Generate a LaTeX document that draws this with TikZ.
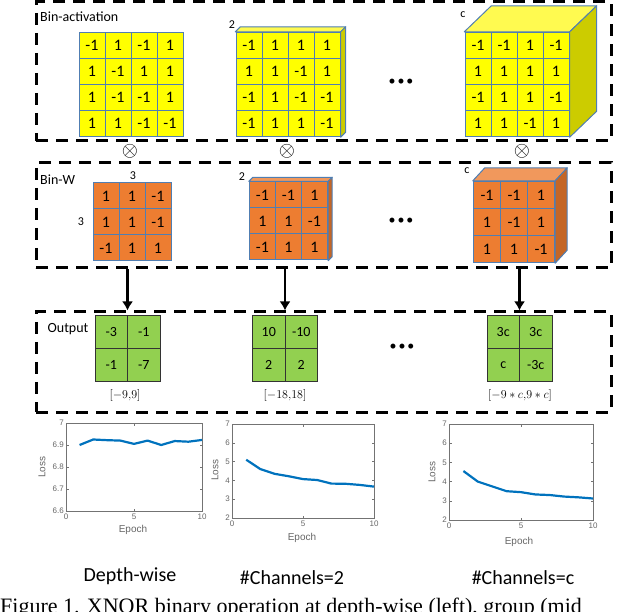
\documentclass[tikz,border=0pt]{standalone}
\usepackage{fontspec}
\setmainfont{Carlito}
\newfontfamily\axisfont{Liberation Sans}
\newfontfamily\capfont{Liberation Serif}
\usepackage{xcolor}
\usepackage{tikz}
\usetikzlibrary{shapes,arrows,arrows.meta,matrix}
\definecolor{cellblue}{RGB}{80,126,178}
\definecolor{actyellow}{RGB}{255,255,0}
\definecolor{acttop}{RGB}{255,250,80}
\definecolor{actside}{RGB}{204,204,0}
\definecolor{worange}{RGB}{237,125,49}
\definecolor{wtop}{RGB}{241,152,92}
\definecolor{wside}{RGB}{196,102,38}
\definecolor{outgreen}{RGB}{146,208,80}
\definecolor{lossblue}{RGB}{0,114,189}
\tikzstyle{dashbox} = [rectangle, draw, line width=3pt, dash pattern=on 12pt off 8pt, minimum width=575pt, inner sep=0pt]
\tikzstyle{cellgrid} = [matrix of nodes, inner sep=0pt, column sep=-1pt, row sep=-1pt]
\tikzstyle{actcell} = [rectangle, anchor=center, draw=cellblue, line width=1pt, fill=actyellow, minimum size=26pt, inner sep=0pt, font=\fontsize{16}{16}\selectfont]
\tikzstyle{wcell} = [actcell, fill=worange]
\tikzstyle{outcell} = [rectangle, anchor=center, draw=black!80, line width=1pt, fill=outgreen, minimum size=32.5pt, inner sep=0pt, font=\fontsize{14}{14}\selectfont]
\tikzstyle{face} = [draw=cellblue, line width=1pt, line join=round]
\tikzstyle{tag} = [font=\fontsize{12}{12}\selectfont, inner sep=0pt]
\tikzstyle{otimes} = [font=\fontsize{20}{20}\selectfont, inner sep=0pt]
\tikzstyle{boxtitle} = [font=\fontsize{14}{14}\selectfont, anchor=west, inner sep=0pt]
\tikzstyle{ellip} = [font=\fontsize{14}{14}\selectfont, inner sep=0pt]
\tikzstyle{rangetext} = [font=\fontsize{13}{13}\selectfont, inner sep=0pt]
\tikzstyle{caseword} = [font=\fontsize{20}{20}\selectfont, inner sep=0pt]
\tikzstyle{line} = [draw, line width=2.2pt, -{Latex[length=9pt,width=11pt]}]
\tikzstyle{axisbox} = [draw=black!55, line width=0.6pt]
\tikzstyle{ticklabel} = [font=\axisfont\fontsize{8}{8}\selectfont, text=black!60, inner sep=1pt]
\tikzstyle{axisname} = [font=\axisfont\fontsize{10}{10}\selectfont, text=black!60, inner sep=0pt]
\tikzstyle{lossline} = [draw=lossblue, line width=2.2pt, line join=round]

\begin{document}
\begin{tikzpicture}[x=1pt, y=-1pt]
    \useasboundingbox (0,0) rectangle (640,612);
    % Place nodes
    \node [dashbox, minimum height=139pt] (binact) at (323.5,71.5) {};
    \node [dashbox, minimum height=105pt] (binw) at (323.5,215.5) {};
    \node [dashbox, minimum height=100pt] (output) at (323.5,362) {};
    \node [boxtitle] (tact) at (40,17) {Bin-activation};
    \node [boxtitle] (tw) at (40,180) {Bin-W};
    \node [boxtitle, anchor=center] (tout) at (68,329) {Output};

    % binary activations
    \matrix (act1) [cellgrid, nodes=actcell] at (131,84.5) {
        -1 & 1 & -1 & 1 \\
        1 & -1 & 1 & 1 \\
        1 & -1 & -1 & 1 \\
        1 & 1 & -1 & -1 \\
    };
    \matrix (act2) [cellgrid, nodes=actcell] at (288,84.5) {
        -1 & 1 & 1 & 1 \\
        1 & 1 & -1 & 1 \\
        -1 & 1 & -1 & -1 \\
        -1 & 1 & 1 & -1 \\
    };
    \matrix (act3) [cellgrid, nodes=actcell] at (517,84.5) {
        -1 & -1 & 1 & -1 \\
        1 & 1 & 1 & 1 \\
        -1 & 1 & 1 & -1 \\
        1 & 1 & -1 & 1 \\
    };
    \path [face, fill=acttop] (act2.north west) -- ++(5,-5) -- ([shift={(5,-5)}]act2.north east) -- (act2.north east) -- cycle;
    \path [face, fill=actside] (act2.north east) -- ++(5,-5) -- ([shift={(5,-5)}]act2.south east) -- (act2.south east) -- cycle;
    \path [face, fill=acttop] (act3.north west) -- ++(27,-26) -- ([shift={(27,-26)}]act3.north east) -- (act3.north east) -- cycle;
    \path [face, fill=actside] (act3.north east) -- ++(27,-26) -- ([shift={(27,-26)}]act3.south east) -- (act3.south east) -- cycle;
    \node [tag] (nact2) at (232,25) {2};
    \node [tag] (nact3) at (463,15) {c};
    \node [ellip] (dact) at (401,82) {\textbullet\hspace{2pt}\textbullet\hspace{2pt}\textbullet};

    \node [otimes] (x1) at (130,151) {$\otimes$};
    \node [otimes] (x2) at (287,151) {$\otimes$};
    \node [otimes] (x3) at (522,151) {$\otimes$};

    % binary weights
    \matrix (w1) [cellgrid, nodes=wcell] at (132,222) {
        1 & 1 & -1 \\
        1 & 1 & -1 \\
        -1 & 1 & 1 \\
    };
    \matrix (w2) [cellgrid, nodes=wcell] at (288.5,221) {
        -1 & -1 & 1 \\
        1 & 1 & -1 \\
        -1 & 1 & 1 \\
    };
    \matrix (w3) [cellgrid, nodes={wcell, minimum size=27pt}] at (514,222) {
        -1 & -1 & 1 \\
        1 & -1 & 1 \\
        1 & 1 & -1 \\
    };
    \path [face, fill=wtop] (w2.north west) -- ++(4,-4) -- ([shift={(4,-4)}]w2.north east) -- (w2.north east) -- cycle;
    \path [face, fill=wside] (w2.north east) -- ++(4,-4) -- ([shift={(4,-4)}]w2.south east) -- (w2.south east) -- cycle;
    \path [face, fill=wtop] (w3.north west) -- ++(12,-13) -- ([shift={(12,-13)}]w3.north east) -- (w3.north east) -- cycle;
    \path [face, fill=wside] (w3.north east) -- ++(12,-13) -- ([shift={(12,-13)}]w3.south east) -- (w3.south east) -- cycle;
    \node [tag] (nw1a) at (133,176) {3};
    \node [tag] (nw1b) at (81,222) {3};
    \node [tag] (nw2) at (242,177) {2};
    \node [tag] (nw3) at (467,171) {c};
    \node [ellip] (dw) at (401,221) {\textbullet\hspace{2pt}\textbullet\hspace{2pt}\textbullet};

    % outputs
    \matrix (out1) [cellgrid, nodes=outcell] at (127.5,348.5) {
        -3 & -1 \\
        -1 & -7 \\
    };
    \matrix (out2) [cellgrid, nodes=outcell] at (285,348.5) {
        10 & -10 \\
        2 & 2 \\
    };
    \matrix (out3) [cellgrid, nodes=outcell] at (519.5,348.5) {
        3c & 3c \\
        c & -3c \\
    };
    \node [ellip] (dout) at (402,347) {\textbullet\hspace{2pt}\textbullet\hspace{2pt}\textbullet};
    \node [rangetext] (r1) at (125,395) {$[-9{,}9]$};
    \node [rangetext] (r2) at (285,395) {$[-18{,}18]$};
    \node [rangetext] (r3) at (520,395) {$[-9*c{,}9*c]$};

    % Draw edges
    \path [line] (binw.south -| out1) -- (output.north -| out1);
    \path [line] (binw.south -| out2) -- (output.north -| out2);
    \path [line] (binw.south -| out3) -- (output.north -| out3);

    % loss curves
    \begin{scope}[shift={(66,511)}, x=13.6pt, y=220pt]
        \draw [axisbox] (0,0) rectangle (10,0.4);
        \foreach \t in {0,5,10} {
            \draw [axisbox] (\t,0) -- ++(0,2.5pt);
            \draw [axisbox] (\t,0.4) -- ++(0,-2.5pt);
            \node [ticklabel, below=2pt] (pa\t) at (\t,0) {\t};
        }
        \foreach \v/\l [count=\i] in {0/6.6, 0.1/6.7, 0.2/6.8, 0.3/6.9, 0.4/7} {
            \draw [axisbox] (0,\v) -- ++(2.5pt,0);
            \draw [axisbox] (10,\v) -- ++(-2.5pt,0);
            \node [ticklabel, left=1pt] (pav\i) at (0,\v) {\l};
        }
        \draw [lossline] plot coordinates {(1,0.30) (2,0.325) (3,0.322) (4,0.32) (5,0.305) (6,0.32) (7,0.30) (8,0.318) (9,0.315) (10,0.323)};
    \end{scope}
    \begin{scope}[shift={(232,518)}, x=14.2pt, y=18.8pt]
        \draw [axisbox] (0,0) rectangle (10,5);
        \foreach \t in {0,5,10} {
            \draw [axisbox] (\t,0) -- ++(0,2.5pt);
            \draw [axisbox] (\t,5) -- ++(0,-2.5pt);
            \node [ticklabel, below=2pt] (pb\t) at (\t,0) {\t};
        }
        \foreach \v [evaluate=\v as \l using int(\v+2)] in {0,...,5} {
            \draw [axisbox] (0,\v) -- ++(2.5pt,0);
            \draw [axisbox] (10,\v) -- ++(-2.5pt,0);
            \node [ticklabel, left=1pt] (pbv\v) at (0,\v) {\l};
        }
        \draw [lossline] plot coordinates {(1,3.1) (2,2.6) (3,2.35) (4,2.22) (5,2.07) (6,2.02) (7,1.83) (8,1.82) (9,1.76) (10,1.67)};
    \end{scope}
    \begin{scope}[shift={(449,520)}, x=14.4pt, y=19.2pt]
        \draw [axisbox] (0,0) rectangle (10,5);
        \foreach \t in {0,5,10} {
            \draw [axisbox] (\t,0) -- ++(0,2.5pt);
            \draw [axisbox] (\t,5) -- ++(0,-2.5pt);
            \node [ticklabel, below=2pt] (pc\t) at (\t,0) {\t};
        }
        \foreach \v [evaluate=\v as \l using int(\v+2)] in {0,...,5} {
            \draw [axisbox] (0,\v) -- ++(2.5pt,0);
            \draw [axisbox] (10,\v) -- ++(-2.5pt,0);
            \node [ticklabel, left=1pt] (pcv\v) at (0,\v) {\l};
        }
        \draw [lossline] plot coordinates {(1,2.55) (2,2.0) (3,1.75) (4,1.5) (5,1.45) (6,1.33) (7,1.3) (8,1.22) (9,1.18) (10,1.12)};
    \end{scope}
    \node [axisname, rotate=90] (ya) at (42,467) {Loss};
    \node [axisname, rotate=90] (yb) at (215,470) {Loss};
    \node [axisname, rotate=90] (yc) at (432,472) {Loss};
    \node [axisname] (xa) at (133,530) {Epoch};
    \node [axisname] (xb) at (302,538) {Epoch};
    \node [axisname] (xc) at (519,542) {Epoch};

    \node [caseword] (cdw) at (130,576) {Depth-wise};
    \node [caseword] (cc2) at (292,578) {\#Channels=2};
    \node [caseword] (ccc) at (523,578) {\#Channels=c};
    \node [anchor=base west, inner sep=0pt, font=\capfont\fontsize{22}{22}\selectfont] (caption) at (0,613) {Figure 1. XNOR binary operation at depth-wise (left), group (mid};
\end{tikzpicture}
\end{document}
